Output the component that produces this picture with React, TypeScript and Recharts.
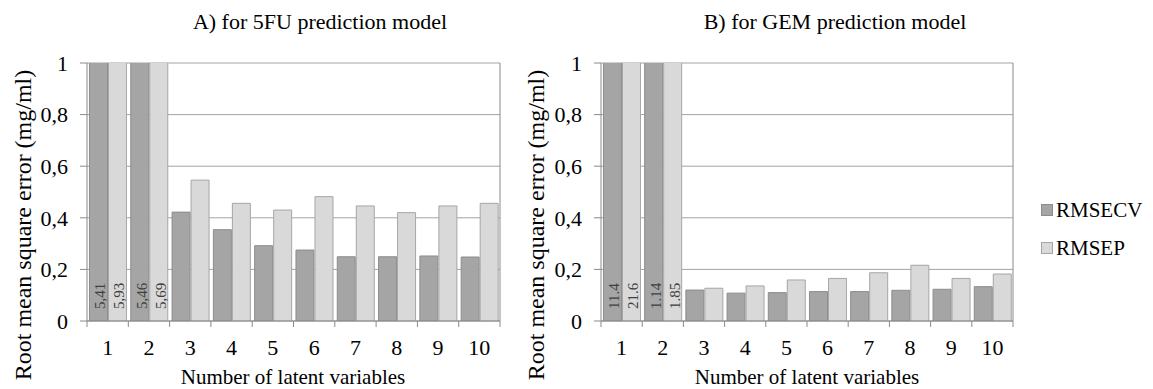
import { Bar, BarChart, CartesianGrid, LabelList, Legend, ReferenceLine, XAxis, YAxis } from "recharts";

const latentVariables = ["1", "2", "3", "4", "5", "6", "7", "8", "9", "10"];

// A) 5FU model
const fuRmsecv = [5.41, 5.46, 0.422, 0.354, 0.292, 0.275, 0.249, 0.249, 0.252, 0.248];
const fuRmsep = [5.93, 5.69, 0.546, 0.456, 0.43, 0.482, 0.446, 0.42, 0.446, 0.456];
const fuRmsecvLabels = ["5,41", "5,46", "", "", "", "", "", "", "", ""];
const fuRmsepLabels = ["5,93", "5,69", "", "", "", "", "", "", "", ""];

// B) GEM model
const gemRmsecv = [11.4, 1.14, 0.12, 0.108, 0.11, 0.114, 0.114, 0.119, 0.123, 0.133];
const gemRmsep = [21.6, 1.85, 0.127, 0.136, 0.159, 0.165, 0.187, 0.216, 0.165, 0.182];
const gemRmsecvLabels = ["11.4", "1.14", "", "", "", "", "", "", "", ""];
const gemRmsepLabels = ["21.6", "1.85", "", "", "", "", "", "", "", ""];

const yTicks = [0, 0.2, 0.4, 0.6, 0.8, 1];

const FONT = "'Liberation Serif', 'Times New Roman', serif";
const DARK = "#a5a5a5";
const LIGHT = "#d9d9d9";
const AXIS = "#8a8a8a";
const GRID = "#a3a3a3";
const TICK_SIZE = 6;

function buildRows(cv: number[], ep: number[], cvLabels: string[], epLabels: string[]) {
    return latentVariables.map((lv, i) => ({
        lv,
        RMSECV: cv[i],
        RMSEP: ep[i],
        cvLabel: cvLabels[i],
        epLabel: epLabels[i]
    }));
}

const fuRows = buildRows(fuRmsecv, fuRmsep, fuRmsecvLabels, fuRmsepLabels);
const gemRows = buildRows(gemRmsecv, gemRmsep, gemRmsecvLabels, gemRmsepLabels);

function CategoryTick(props: any) {
    const { x, y, payload } = props;
    const half = payload.offset ?? 0;
    const axisY = y - TICK_SIZE;
    const isLast = payload.value === latentVariables[latentVariables.length - 1];
    return (
        <g>
            <line x1={x - half} x2={x - half} y1={axisY} y2={axisY + TICK_SIZE} stroke={AXIS} />
            {isLast && <line x1={x + half} x2={x + half} y1={axisY} y2={axisY + TICK_SIZE} stroke={AXIS} />}
            <text x={x} y={axisY + 34} textAnchor="middle" fontSize={22} fontFamily={FONT} fill="#000">
                {payload.value}
            </text>
        </g>
    );
}

function OverflowLabel(props: any) {
    const { x, y, width, height, value } = props;
    if (!value) return null;
    const cx = x + width / 2 + 2;
    const bottom = y + height - 12;
    return (
        <text
            x={cx}
            y={bottom}
            transform={`rotate(-90 ${cx} ${bottom})`}
            dominantBaseline="central"
            fontSize={15}
            fontFamily={FONT}
            fill="#404040"
        >
            {value}
        </text>
    );
}

function LegendBox({ payload }: any) {
    return (
        <div style={{ fontFamily: FONT, fontSize: 21, color: "#000", lineHeight: "22px" }}>
            {(payload ?? []).map((entry: any) => (
                <div key={entry.value} style={{ display: "flex", alignItems: "center", height: 38 }}>
                    <span
                        style={{
                            flex: "none",
                            width: 10,
                            height: 10,
                            background: entry.color,
                            border: `1px solid ${entry.value === "RMSECV" ? "#8c8c8c" : "#a6a6a6"}`,
                            marginRight: 3
                        }}
                    />
                    <span style={{ fontFamily: FONT, whiteSpace: "nowrap" }}>{entry.value}</span>
                </div>
            ))}
        </div>
    );
}

interface PanelProps {
    rows: ReturnType<typeof buildRows>;
    width: number;
    marginLeft: number;
    showLegend?: boolean;
}

function Panel({ rows, width, marginLeft, showLegend }: PanelProps) {
    return (
        <BarChart
            width={width}
            height={389}
            data={rows}
            margin={{ top: 63, right: 140, bottom: 28, left: marginLeft }}
            barCategoryGap="6%"
            barGap={1}
            style={{ fontFamily: FONT }}
        >
            <CartesianGrid vertical={false} stroke={GRID} />
            <XAxis
                dataKey="lv"
                height={40}
                stroke={AXIS}
                tickLine={false}
                tickSize={TICK_SIZE}
                tickMargin={0}
                interval={0}
                tick={(p: any) => <CategoryTick {...p} />}
            />
            <YAxis
                width={60}
                domain={[0, 1]}
                ticks={yTicks}
                allowDataOverflow
                stroke={AXIS}
                tickSize={7}
                tickMargin={12}
                tickFormatter={(v: number) => String(v).replace(".", ",")}
                tick={{ fontSize: 22, fontFamily: FONT, fill: "#000" }}
            />
            <ReferenceLine x={latentVariables[latentVariables.length - 1]} position="end" stroke={AXIS} />
            <Bar dataKey="RMSECV" fill={DARK} stroke="#8c8c8c" strokeWidth={1} isAnimationActive={false}>
                <LabelList dataKey="cvLabel" content={(p: any) => <OverflowLabel {...p} />} />
            </Bar>
            <Bar dataKey="RMSEP" fill={LIGHT} stroke="#a6a6a6" strokeWidth={1} isAnimationActive={false}>
                <LabelList dataKey="epLabel" content={(p: any) => <OverflowLabel {...p} />} />
            </Bar>
            {showLegend && (
                <Legend
                    layout="horizontal"
                    verticalAlign="middle"
                    align="center"
                    wrapperStyle={{ left: 541, top: 191, width: 110 }}
                    content={(p: any) => <LegendBox {...p} />}
                />
            )}
        </BarChart>
    );
}

const textBase = {
    position: "absolute" as const,
    fontFamily: FONT,
    color: "#000",
    lineHeight: 1,
    whiteSpace: "nowrap" as const
};

export default function App() {
    return (
        <div
            style={{
                position: "relative",
                width: 1153,
                height: 389,
                margin: "-8px 0 0 -8px",
                background: "#fff",
                fontFamily: FONT,
                overflow: "hidden"
            }}
        >
            <div style={{ position: "absolute", left: 0, top: 0 }}>
                <Panel rows={fuRows} width={640} marginLeft={27} />
            </div>
            <div style={{ position: "absolute", left: 500, top: 0 }}>
                <Panel rows={gemRows} width={653} marginLeft={41} showLegend />
            </div>

            <div style={{ ...textBase, fontSize: 22, top: 11, left: 120, width: 400, textAlign: "center" }}>
                A) for 5FU prediction model
            </div>
            <div style={{ ...textBase, fontSize: 22, top: 11, left: 635, width: 400, textAlign: "center" }}>
                B) for GEM prediction model
            </div>

            <div
                style={{ ...textBase, fontSize: 21, lineHeight: "16px", top: 369, left: 93, width: 400, textAlign: "center" }}
            >
                Number of latent variables
            </div>
            <div
                style={{ ...textBase, fontSize: 21, lineHeight: "16px", top: 369, left: 607, width: 400, textAlign: "center" }}
            >
                Number of latent variables
            </div>

            <div
                style={{
                    ...textBase,
                    fontSize: 24,
                    left: 23,
                    top: 225,
                    transform: "translate(-50%, -50%) rotate(-90deg)"
                }}
            >
                Root mean square error (mg/ml)
            </div>
            <div
                style={{
                    ...textBase,
                    fontSize: 24,
                    left: 536,
                    top: 225,
                    transform: "translate(-50%, -50%) rotate(-90deg)"
                }}
            >
                Root mean square error (mg/ml)
            </div>
        </div>
    );
}
